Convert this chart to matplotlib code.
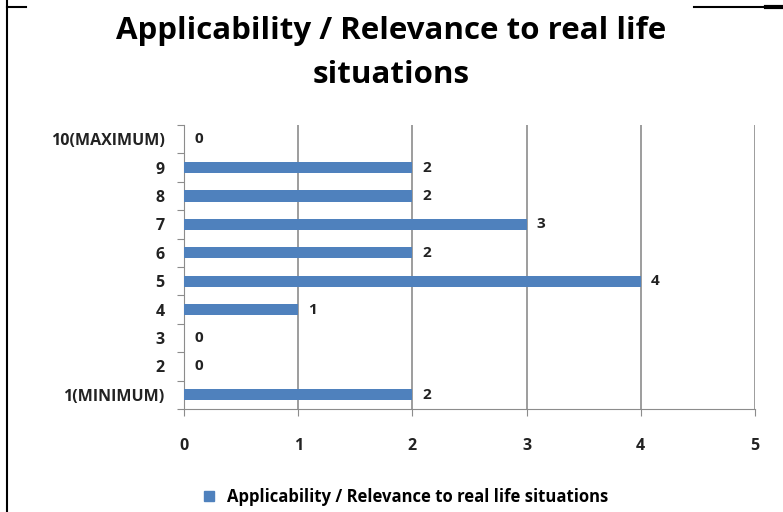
import matplotlib
matplotlib.use("Agg")
import matplotlib.pyplot as plt
from matplotlib.lines import Line2D

plt.rcParams["font.family"] = ["Open Sans", "DejaVu Sans"]

categories = ["1(MINIMUM)", "2", "3", "4", "5", "6", "7", "8", "9", "10(MAXIMUM)"]
counts = [2, 0, 0, 1, 4, 2, 3, 2, 2, 0]
series_name = "Applicability / Relevance to real life situations"
bar_color = "#4F81BD"
axis_gray = "#8C8C8C"

fig = plt.figure(figsize=(7.83, 5.12), dpi=100)
ax = fig.add_axes([184 / 783, 1 - 409 / 512, (755 - 184) / 783, (409 - 125) / 512])

y = range(len(categories))
ax.barh(y, counts, height=0.39, color=bar_color, zorder=3)

for yi, v in zip(y, counts):
    ax.text(v + 0.09, yi, str(v), va="center", ha="left", fontsize=11,
            fontweight="bold", color="#222222")

ax.set_xlim(0, 5)
ax.set_ylim(-0.5, len(categories) - 0.5)
ax.set_xticks(range(6))
ax.set_yticks([i - 0.5 for i in range(len(categories) + 1)], minor=False)
ax.set_yticklabels([])
ax.set_yticks(list(y), minor=True)
ax.set_yticklabels(categories, minor=True)
ax.tick_params(axis="y", which="major", length=5, color=axis_gray, direction="out")
ax.tick_params(axis="y", which="minor", length=0, pad=14, labelsize=11.5)
ax.tick_params(axis="x", length=5, color=axis_gray, direction="out", pad=16, labelsize=11.5)
for lbl in ax.get_xticklabels() + ax.get_yticklabels(minor=True):
    lbl.set_fontweight("bold")
    lbl.set_color("#222222")

ax.grid(axis="x", color=axis_gray, linewidth=1.2, zorder=0)
for s in ["top", "right"]:
    ax.spines[s].set_visible(False)
ax.spines["left"].set_color(axis_gray)
ax.spines["bottom"].set_color(axis_gray)

fig.text(0.5, 1 - 53 / 512, "Applicability / Relevance to real life\nsituations",
         ha="center", va="center", fontsize=22.5, fontweight="bold", linespacing=1.6)

handle = Line2D([], [], marker="s", linestyle="none", markersize=7,
                markerfacecolor=bar_color, markeredgecolor=bar_color)
fig.legend([handle], [series_name], loc="center", bbox_to_anchor=(400 / 783, 1 - 497 / 512),
           frameon=False, handletextpad=0.1, prop={"size": 12, "weight": "bold"})

# screenshot frame lines
fig.add_artist(Line2D([7 / 783, 7 / 783], [0, 1], color="black", linewidth=1.5))
fig.add_artist(Line2D([7 / 783, 26 / 783], [1 - 7 / 512, 1 - 7 / 512], color="black", linewidth=1.5))
fig.add_artist(Line2D([694 / 783, 1], [1 - 7 / 512, 1 - 7 / 512], color="black", linewidth=1.5))
fig.add_artist(Line2D([766 / 783, 1], [1 - 7 / 512, 1 - 7 / 512], color="black", linewidth=3))

fig.savefig("out.png", dpi=100)
